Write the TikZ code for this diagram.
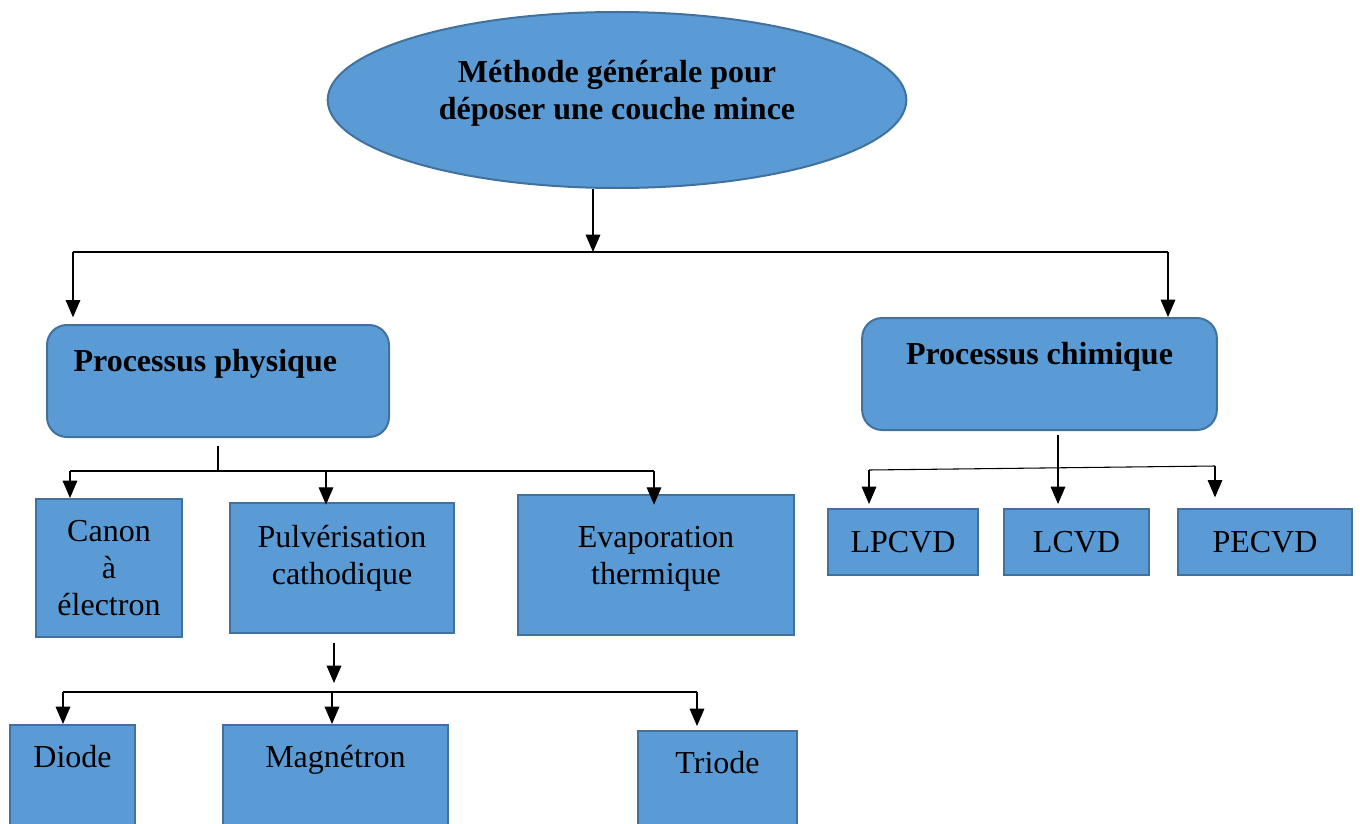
\documentclass[tikz,border=0pt]{standalone}
\usepackage{fontspec}
\setmainfont{Liberation Serif}
\usepackage{xcolor}
\definecolor{boxblue}{RGB}{91,155,213}
\definecolor{boxedge}{RGB}{65,113,156}
\usetikzlibrary{arrows.meta, shapes.geometric}

\begin{document}
\begin{tikzpicture}[x=0.75pt, y=-0.75pt,
    block/.style={draw=boxedge, fill=boxblue, line width=1.5pt, inner sep=0pt,
                  align=center, font=\fontsize{24}{28}\selectfont},
    roundblock/.style={block, rounded corners=15pt, font=\fontsize{24}{28}\selectfont\bfseries},
    link/.style={line width=0.8pt},
    arr/.style={link, -{Triangle[width=11pt,length=13pt]}}]
  \useasboundingbox (0,0) rectangle (1360,824);
  \clip (0,0) rectangle (1360,824);

  % Main method
  \node[ellipse, draw=boxedge, fill=boxblue, line width=1.5pt, inner sep=0pt,
        minimum width=434pt, minimum height=132pt, align=center, text depth=15pt,
        font=\fontsize{24}{28}\selectfont\bfseries]
        (title) at (617,100) {Méthode générale pour\\déposer une couche mince};

  % Two families
  \node[roundblock, minimum width=256.5pt, minimum height=84pt, text depth=31pt]
        (phys) at (218,381) {Processus physique\hspace*{19pt}};
  \node[roundblock, minimum width=266pt, minimum height=84pt, text depth=31pt]
        (chim) at (1039.5,374) {Processus chimique};

  % Physical processes
  \node[block, minimum width=109.5pt, minimum height=103.5pt] (canon) at (109,568) {Canon\\à\\électron};
  \node[block, minimum width=168pt, minimum height=97.5pt, text depth=20pt] (pulv) at (342,568) {Pulvérisation\\cathodique};
  \node[block, minimum width=207pt, minimum height=105pt, text depth=14pt] (evap) at (656,565) {Evaporation\\thermique};

  % Chemical processes
  \foreach \n/\x/\w/\t in {lpcvd/903/112.5/LPCVD, lcvd/1076.5/108.75/LCVD, pecvd/1265/130.5/PECVD} {
      \node[block, minimum width=\w pt, minimum height=49.5pt] (\n) at (\x,542) {\t};
  }

  % Sputtering modes
  \node[block, anchor=north, minimum width=93.75pt, minimum height=97.5pt, text depth=51pt] (diode) at (72.5,724) {Diode};
  \node[block, anchor=north, minimum width=168.75pt, minimum height=97.5pt, text depth=51pt] (magn) at (335.5,724) {Magnétron};
  \node[block, anchor=north, minimum width=119.25pt, minimum height=97.5pt, text depth=51pt] (triode) at (717.5,730) {Triode};

  % Bus under the title
  \coordinate (hub) at (593,252);
  \coordinate (busL) at (73,252);
  \coordinate (busR) at (1168,252);
  \draw[arr] (title.south -| hub) -- (hub);
  \draw[link] (busL) -- (busR);
  \draw[arr, shorten >=5pt] (busL) -- (busL |- phys.north);
  \draw[arr] (busR) -- (busR |- chim.north);

  % Bus under the physical process
  \coordinate (pbusL) at (70,471);
  \coordinate (pbusM) at (326,471);
  \coordinate (pbusR) at (654,471);
  \draw[link] (phys.south) ++(0,8) -- (phys.south |- pbusL);
  \draw[link] (pbusL) -- (pbusR);
  \draw[arr] (pbusL) -- (pbusL |- canon.north);
  \draw[arr, shorten >=-2pt] (pbusM) -- (pbusM |- pulv.north);
  \draw[arr, shorten >=-8pt] (pbusR) -- (pbusR |- evap.north);

  % Bus under the chemical process
  \coordinate (cstem) at (1058,435);
  \coordinate (cbusL) at (869,470);
  \coordinate (cbusR) at (1215,466);
  \draw[link] (cbusL) -- (cbusR);
  \draw[arr, shorten >=3pt] (cstem) -- (cstem |- lcvd.north);
  \draw[arr, shorten >=3pt] (cbusL) -- (cbusL |- lpcvd.north);
  \draw[arr, shorten >=8pt] (cbusR) -- (cbusR |- pecvd.north);

  % Bus under the sputtering
  \coordinate (sstem) at (334,683);
  \coordinate (sbusL) at (63,692);
  \coordinate (sbusM) at (332,692);
  \coordinate (sbusR) at (697,692);
  \draw[arr] (pulv.south -| sstem) ++(0,9) -- (sstem);
  \draw[link] (sbusL) -- (sbusR);
  \draw[arr] (sbusL) -- (sbusL |- diode.north);
  \draw[arr] (sbusM) -- (sbusM |- magn.north);
  \draw[arr, shorten >=3pt] (sbusR) -- (sbusR |- triode.north);
\end{tikzpicture}
\end{document}
